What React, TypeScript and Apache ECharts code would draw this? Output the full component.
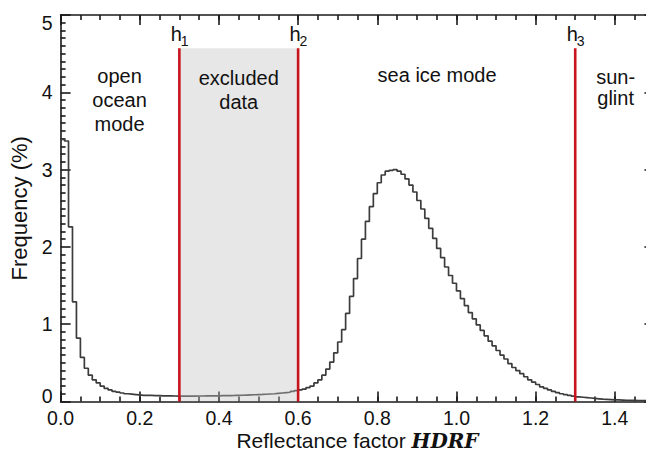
import React, { useEffect, useRef } from "react";
import * as echarts from "echarts";

// Histogram of reflectance factor, bins of width 0.01 starting at 0.00
const binWidth = 0.01;
const frequency = [
  3.39, 3.37, 2.26, 1.29, 0.82, 0.57, 0.43, 0.34, 0.28, 0.24,
  0.2, 0.17, 0.15, 0.13, 0.12, 0.11, 0.1, 0.095, 0.09, 0.085,
  0.08, 0.08, 0.078, 0.076, 0.075, 0.074, 0.073, 0.072, 0.071, 0.07,
  0.07, 0.07, 0.07, 0.07, 0.071, 0.071, 0.072, 0.072, 0.073, 0.074,
  0.075, 0.076, 0.077, 0.078, 0.08, 0.081, 0.083, 0.085, 0.087, 0.089,
  0.091, 0.094, 0.097, 0.1, 0.105, 0.11, 0.115, 0.12, 0.13, 0.14,
  0.15, 0.16, 0.18, 0.2, 0.24, 0.28, 0.34, 0.42, 0.51, 0.63,
  0.77, 0.93, 1.14, 1.36, 1.59, 1.85, 2.1, 2.33, 2.52, 2.69,
  2.83, 2.93, 2.98, 2.99, 3.0, 2.98, 2.94, 2.88, 2.8, 2.71,
  2.6, 2.49, 2.37, 2.24, 2.11, 1.98, 1.86, 1.74, 1.63, 1.53,
  1.43, 1.33, 1.24, 1.15, 1.07, 0.99, 0.92, 0.85, 0.78, 0.72,
  0.66, 0.6, 0.55, 0.49, 0.44, 0.4, 0.36, 0.32, 0.28, 0.25,
  0.22, 0.19, 0.17, 0.15, 0.13, 0.115, 0.1, 0.09, 0.08, 0.07,
  0.06, 0.055, 0.05, 0.045, 0.04, 0.035, 0.03, 0.028, 0.025, 0.022,
  0.02, 0.018, 0.016, 0.015, 0.014, 0.013, 0.012, 0.011, 0.01, 0.01,
];

const thresholds = [0.3, 0.6, 1.3];
const thresholdSubscripts = ["1", "2", "3"];
const excludedRange = [0.3, 0.6];
const markerTop = 4.57;

const xRange = [0, 1.5];
const yRange = [0, 5];

const regionLabels = [
  { lines: ["open", "ocean", "mode"], x: 0.149, y: [76, 100, 124] },
  { lines: ["excluded", "data"], x: 0.45, y: [78, 102] },
  { lines: ["sea ice mode"], x: 0.951, y: [75] },
  { lines: ["sun-", "glint"], x: 1.402, y: [77, 98] },
];

const SANS = "'Liberation Sans', Arial, Helvetica, sans-serif";
const INK = "#111111";
const AXIS = "#1a1a1a";
const RED = "#c8141e";

export default function App() {
  const ref = useRef<HTMLDivElement>(null);

  useEffect(() => {
    const chart = echarts.init(ref.current!, null, { renderer: "svg" });

    const histData: number[][] = frequency.map((v, i) => [+(i * binWidth).toFixed(2), v]);
    histData.push([xRange[1], frequency[frequency.length - 1]]);

    const axisLineStyle = { color: AXIS, width: 1.6 };

    const xMajor = (pos: "bottom" | "top", labels: boolean, withName: boolean) => ({
      type: "value",
      position: pos,
      min: xRange[0],
      max: xRange[1],
      interval: 0.2,
      axisLine: { show: true, onZero: false, lineStyle: axisLineStyle },
      axisTick: { show: true, inside: true, length: 10, lineStyle: axisLineStyle },
      axisLabel: {
        show: labels,
        margin: 7,
        fontSize: 19.5,
        lineHeight: 19.5,
        fontFamily: SANS,
        color: INK,
        formatter: (v: number) => (v > 1.45 ? "" : v.toFixed(1)),
      },
      splitLine: { show: false },
      ...(withName
        ? {
            name: "Reflectance factor {b|HDRF}",
            nameLocation: "middle",
            nameGap: 28.5,
            nameMoveOverlap: false,
            nameTextStyle: {
              fontSize: 21,
              fontFamily: SANS,
              color: INK,
              lineHeight: 21,
              rich: {
                b: {
                  fontSize: 20,
                  lineHeight: 21,
                  fontFamily: "'DejaVu Serif', 'Liberation Serif', serif",
                  fontWeight: "bold",
                  fontStyle: "italic",
                  color: INK,
                },
              },
            },
          }
        : {}),
    });

    const xMinor = (pos: "bottom" | "top") => ({
      type: "value",
      position: pos,
      min: xRange[0],
      max: xRange[1],
      interval: 0.05,
      axisLine: { show: false, onZero: false },
      axisTick: { show: true, inside: true, length: 5, lineStyle: axisLineStyle },
      axisLabel: { show: false },
      splitLine: { show: false },
    });

    const yAxisDef = (pos: "left" | "right", labels: boolean) => ({
      type: "value",
      position: pos,
      min: yRange[0],
      max: yRange[1],
      interval: 1,
      axisLine: { show: true, onZero: false, lineStyle: axisLineStyle },
      axisTick: { show: true, inside: true, length: 10, lineStyle: axisLineStyle },
      minorTick: { show: true, splitNumber: 10, length: 5, lineStyle: axisLineStyle },
      axisLabel: {
        show: labels,
        margin: 8,
        fontSize: 19.5,
        fontFamily: SANS,
        color: INK,
        formatter: (v: number) =>
          v === yRange[0] ? "{lo|" + v + "}" : v === yRange[1] ? "{hi|" + v + "}" : String(v),
        rich: {
          lo: { fontSize: 19.5, fontFamily: SANS, color: INK, padding: [0, 0, 12, 0] },
          hi: { fontSize: 19.5, fontFamily: SANS, color: INK, padding: [16, 0, 0, 0] },
        },
      },
      splitLine: { show: false },
      ...(labels
        ? {
            name: "Frequency (%)",
            nameLocation: "middle",
            nameGap: 29,
            nameRotate: 90,
            nameTextStyle: { fontSize: 22, fontFamily: SANS, color: INK },
          }
        : {}),
    });

    const series: any[] = [
      {
        type: "line",
        name: "histogram",
        xAxisIndex: 0,
        yAxisIndex: 0,
        data: histData,
        step: "end",
        symbol: "none",
        showSymbol: false,
        silent: true,
        lineStyle: { color: "#3c3c3c", width: 1.7 },
        z: 2,
      },
      {
        type: "line",
        name: "excluded",
        xAxisIndex: 0,
        yAxisIndex: 0,
        data: [
          [excludedRange[0], markerTop],
          [excludedRange[1], markerTop],
        ],
        symbol: "none",
        silent: true,
        lineStyle: { width: 0, opacity: 0 },
        areaStyle: { color: "rgba(192,192,192,0.55)", origin: "start" },
        z: 3,
      },
      ...thresholds.map((t) => ({
        type: "line",
        xAxisIndex: 0,
        yAxisIndex: 0,
        data: [
          [t, yRange[0]],
          [t, markerTop],
        ],
        symbol: "none",
        silent: true,
        lineStyle: { color: RED, width: 2.6 },
        z: 4,
      })),
    ];

    chart.setOption({
      animation: false,
      backgroundColor: "#ffffff",
      grid: {
        left: 60.6,
        right: -8.4,
        top: 15,
        bottom: 50.5,
        containLabel: false,
        outerBoundsMode: "none",
      },
      xAxis: [xMajor("bottom", true, true), xMinor("bottom"), xMajor("top", false, false), xMinor("top")],
      yAxis: [yAxisDef("left", true), yAxisDef("right", false)],
      series,
    });

    const px = (x: number) => chart.convertToPixel({ xAxisIndex: 0 }, x) as number;
    const py = (y: number) => chart.convertToPixel({ yAxisIndex: 0 }, y) as number;

    const graphics: any[] = [];
    thresholds.forEach((t, i) => {
      const x = px(t);
      const top = py(markerTop);
      graphics.push({
        type: "text",
        z: 100,
        x: x - 8.5,
        y: top - 14,
        style: {
          text: "h",
          fontSize: 20,
          fontFamily: SANS,
          fill: INK,
          align: "left",
          textAlign: "left",
          verticalAlign: "middle",
          textVerticalAlign: "middle",
        },
      });
      graphics.push({
        type: "text",
        z: 100,
        x: x + 1.5,
        y: top - 7.5,
        style: {
          text: thresholdSubscripts[i],
          fontSize: 14,
          fontFamily: SANS,
          fill: INK,
          align: "left",
          textAlign: "left",
          verticalAlign: "middle",
          textVerticalAlign: "middle",
        },
      });
    });
    regionLabels.forEach((r) => {
      const cx = px(r.x);
      r.lines.forEach((line, j) => {
        graphics.push({
          type: "text",
          z: 100,
          x: cx,
          y: r.y[j],
          style: {
            text: line,
            fontSize: 20,
            fontFamily: SANS,
            fill: INK,
            align: "center",
            textAlign: "center",
            verticalAlign: "middle",
            textVerticalAlign: "middle",
          },
        });
      });
    });
    chart.setOption({ graphic: graphics });

    return () => chart.dispose();
  }, []);

  return (
    <div
      ref={ref}
      style={{ position: "absolute", left: 0, top: 0, width: 646, height: 452, background: "#fff" }}
    />
  );
}
